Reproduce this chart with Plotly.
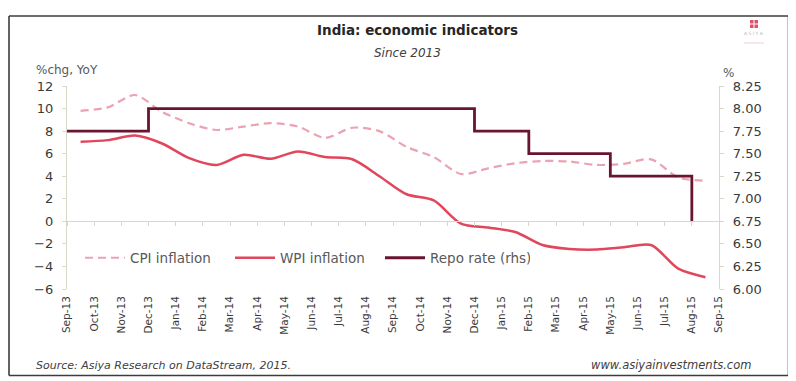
import plotly.graph_objects as go

# ---------------- data ----------------
month_labels = ["Sep-13", "Oct-13", "Nov-13", "Dec-13", "Jan-14", "Feb-14", "Mar-14", "Apr-14",
                "May-14", "Jun-14", "Jul-14", "Aug-14", "Sep-14", "Oct-14", "Nov-14", "Dec-14",
                "Jan-15", "Feb-15", "Mar-15", "Apr-15", "May-15", "Jun-15", "Jul-15", "Aug-15",
                "Sep-15"]
cpi = [9.8, 10.1, 11.2, 9.7, 8.7, 8.1, 8.4, 8.7, 8.4, 7.4, 8.3, 8.0,
       6.6, 5.7, 4.2, 4.7, 5.15, 5.35, 5.3, 5.0, 5.1, 5.5, 3.9, 3.6]
wpi = [7.05, 7.2, 7.6, 6.9, 5.6, 5.0, 5.9, 5.55, 6.2, 5.7, 5.5, 4.0,
       2.4, 1.85, -0.2, -0.55, -0.95, -2.1, -2.45, -2.5, -2.3, -2.1, -4.2, -4.95]
repo = [7.75, 7.75, 7.75, 8.00, 8.00, 8.00, 8.00, 8.00, 8.00, 8.00, 8.00, 8.00,
        8.00, 8.00, 8.00, 7.75, 7.75, 7.50, 7.50, 7.50, 7.25, 7.25, 7.25, 6.75]

n = len(cpi)
x_mid = [i + 0.5 for i in range(n)]        # monthly observations between tick marks
x_start = [i for i in range(len(repo))]     # repo rate steps at month boundaries
tick_pos = list(range(len(month_labels)))

# ---------------- style ----------------
FONT = "'DejaVu Sans', sans-serif"
PALE = "#d8d8c6"
TXT = "#3a3a3a"
CPI_C = "#eba2b2"
WPI_C = "#e0465c"
REPO_C = "#6a1530"

OFF = 8  # page body margin
W, H = 796 - OFF, 381 - OFF
L, R, T, B = 67 - OFF, 77, 86 - OFF, 92
PW, PH = W - L - R, H - T - B


def px(x):
    return (x - OFF - L) / PW


def py(y):
    return (H - B - (y - OFF)) / PH


fig = go.Figure()
fig.add_trace(go.Scatter(x=x_mid, y=cpi, name="CPI inflation", mode="lines",
                         line=dict(color=CPI_C, width=2.2, dash="8px,5px", shape="spline", smoothing=0.8)))
fig.add_trace(go.Scatter(x=x_mid, y=wpi, name="WPI inflation", mode="lines",
                         line=dict(color=WPI_C, width=2.5, shape="spline", smoothing=0.8)))
fig.add_trace(go.Scatter(x=x_start, y=repo, name="Repo rate (rhs)", mode="lines", yaxis="y2",
                         line=dict(color=REPO_C, width=2.8, shape="hv")))
# carrier for the zero-crossing category axis (tick marks on the 0 line)
fig.add_trace(go.Scatter(x=[], y=[], xaxis="x2", showlegend=False, hoverinfo="skip"))

fig.update_layout(
    width=W, height=H,
    margin=dict(l=L, r=R, t=T, b=B, autoexpand=False),
    paper_bgcolor="white", plot_bgcolor="white",
    font=dict(family=FONT, color=TXT, size=12),
    showlegend=True,
    legend=dict(orientation="h", x=px(80), y=py(258), xanchor="left", yanchor="middle",
                bgcolor="rgba(0,0,0,0)", font=dict(size=13.5, color="#595959"),
                itemwidth=40, tracegroupgap=0, entrywidth=95),
    xaxis=dict(range=[0, 24], tickmode="array", tickvals=tick_pos, ticktext=month_labels,
               tickangle=-90, showline=False, ticks="", showgrid=False, zeroline=False,
               tickfont=dict(size=10.5, color=TXT), automargin=False, ticklabelstandoff=4),
    xaxis2=dict(range=[0, 24], overlaying="x", anchor="free", position=py(221),
                tickmode="array", tickvals=tick_pos, showticklabels=False,
                showline=True, linecolor=PALE, linewidth=1.3, automargin=False,
                ticks="outside", ticklen=4, tickcolor=PALE, showgrid=False, zeroline=False),
    yaxis=dict(range=[-6, 12], dtick=2, showline=True, linecolor=PALE, linewidth=1.3,
               ticks="outside", ticklen=4, tickcolor=PALE, showgrid=False, zeroline=False,
               tickfont=dict(size=13, color=TXT), ticklabelstandoff=6, automargin=False),
    yaxis2=dict(range=[6, 8.25], dtick=0.25, tickformat=".2f", overlaying="y", side="right",
                showline=True, linecolor=PALE, linewidth=1.3, ticks="outside", ticklen=4,
                tickcolor=PALE, showgrid=False, zeroline=False, automargin=False,
                tickfont=dict(size=13, color=TXT), ticklabelstandoff=6),
)

annotations = [
    dict(text="<b>India: economic indicators</b>", x=px(417), y=py(30), font=dict(size=13.5, color="#262626")),
    dict(text="<i>Since 2013</i>", x=px(407), y=py(53), font=dict(size=12, color="#404040")),
    dict(text="%chg, YoY", x=px(34), y=py(70), xanchor="left", font=dict(size=12, color="#595959")),
    dict(text="%", x=px(721), y=py(73), xanchor="left", font=dict(size=12, color="#595959")),
    dict(text="<i>Source: Asiya Research on DataStream, 2015.</i>", x=px(34), y=py(365), xanchor="left",
         font=dict(size=11, color="#404040")),
    dict(text="<i>www.asiyainvestments.com</i>", x=px(753), y=py(365), xanchor="right",
         font=dict(size=11.5, color="#404040")),
    dict(text="A S I Y A", x=px(754), y=py(33), font=dict(size=4.5, color="#b0b8c0")),
]
for a in annotations:
    a.setdefault("xanchor", "center")
    fig.add_annotation(xref="paper", yref="paper", showarrow=False, yanchor="middle", **a)

FRAME = dict(color="#3c3c3c", width=1.6)
fx0, fx1, fy0, fy1 = px(9), px(788.5), py(375.5), py(16)
shapes = [
    # outer frame
    dict(type="line", x0=fx0, x1=fx1, y0=fy1, y1=fy1, line=FRAME),
    dict(type="line", x0=fx0, x1=fx1, y0=fy0, y1=fy0, line=FRAME),
    dict(type="line", x0=fx0, x1=fx0, y0=fy0, y1=fy1, line=FRAME),
    dict(type="line", x0=fx1, x1=fx1, y0=fy0, y1=fy1, line=FRAME),
    # logo
    dict(type="rect", x0=px(750), x1=px(758), y0=py(28), y1=py(20),
         line=dict(width=0), fillcolor="#e0506a"),
    dict(type="line", x0=px(754), x1=px(754), y0=py(28), y1=py(20), line=dict(color="white", width=1)),
    dict(type="line", x0=px(750), x1=px(758), y0=py(24), y1=py(24), line=dict(color="white", width=1)),
    dict(type="line", x0=px(744), x1=px(764), y0=py(43), y1=py(43), line=dict(color="#f0c0c8", width=0.8)),
]
for s in shapes:
    fig.add_shape(xref="paper", yref="paper", layer="above", **s)

fig.write_html("out.html")
